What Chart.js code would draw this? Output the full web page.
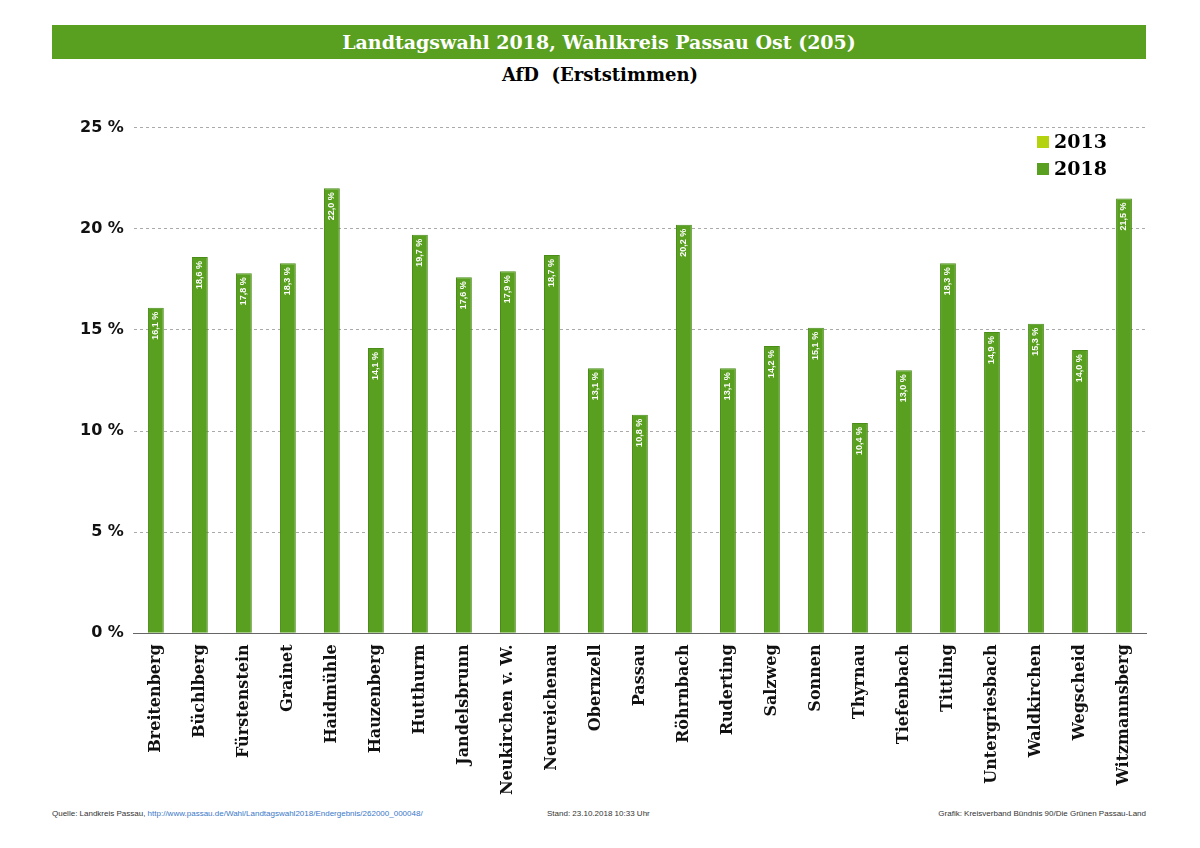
<!DOCTYPE html>
<html>
<head>
<meta charset="utf-8">
<script src="https://cdn.jsdelivr.net/npm/chart.js@4"></script>
<style>
  body { margin: 0; background: #fff; font-family: "DejaVu Serif", serif; }
  #banner { position: absolute; left: 52px; top: 25px; width: 1094px; height: 34px; background: #59a020;
            color: #fff; font-weight: bold; font-size: 19px; text-align: center; line-height: 34px; }
  #sub { position: absolute; left: 0; top: 64px; width: 1200px; text-align: center; font-weight: bold; font-size: 18px; }
  #wrap { position: absolute; left: 0; top: 108px; width: 1200px; height: 690px; }
  #legend { position: absolute; left: 1037px; top: 128px; font-weight: bold; font-size: 19px; line-height: 27px; }
  #legend span.sw { display: inline-block; width: 12px; height: 12px; margin-right: 5px; }
  #foot { position: absolute; top: 809px; left: 52px; width: 1094px; font-family: "Liberation Sans Narrow", "Liberation Sans", sans-serif; font-size: 8px; color: #333; }
  #foot a { color: #3a78c9; text-decoration: none; }
</style>
</head>
<body>
<div id="banner">Landtagswahl 2018, Wahlkreis Passau Ost (205)</div>
<div id="sub">AfD&nbsp; (Erststimmen)</div>
<div id="wrap"><canvas id="c"></canvas></div>
<div id="legend">
  <div><span class="sw" style="background:#b5d20e"></span>2013</div>
  <div><span class="sw" style="background:#59a020"></span>2018</div>
</div>
<div id="foot">
  <span style="position:absolute;left:0">Quelle: Landkreis Passau, <a>http://www.passau.de/Wahl/Landtagswahl2018/Endergebnis/262000_000048/</a></span>
  <span style="position:absolute;left:495px">Stand: 23.10.2018 10:33 Uhr</span>
  <span style="position:absolute;right:0">Grafik: Kreisverband Bündnis 90/Die Grünen Passau-Land</span>
</div>
<script>
const gemeinden = ['Breitenberg', 'Büchlberg', 'Fürstenstein', 'Grainet', 'Haidmühle', 'Hauzenberg', 'Hutthurm',
  'Jandelsbrunn', 'Neukirchen v. W.', 'Neureichenau', 'Obernzell', 'Passau', 'Röhrnbach', 'Ruderting', 'Salzweg',
  'Sonnen', 'Thyrnau', 'Tiefenbach', 'Tittling', 'Untergriesbach', 'Waldkirchen', 'Wegscheid', 'Witzmannsberg'];
const werte2013 = gemeinden.map(() => null); // no AfD candidate in 2013
const werte2018 = [16.1, 18.6, 17.8, 18.3, 22.0, 14.1, 19.7, 17.6, 17.9, 18.7, 13.1, 10.8, 20.2, 13.1, 14.2,
  15.1, 10.4, 13.0, 18.3, 14.9, 15.3, 14.0, 21.5];

const labelPlugin = {
  id: 'barLabels',
  afterDatasetsDraw(chart) {
    const ctx = chart.ctx;
    const meta = chart.getDatasetMeta(1);
    ctx.save();
    ctx.fillStyle = '#fff';
    ctx.font = 'bold 9px "Liberation Sans Narrow", "Liberation Sans", sans-serif';
    ctx.textAlign = 'right';
    ctx.textBaseline = 'middle';
    meta.data.forEach((bar, i) => {
      ctx.save();
      ctx.translate(bar.x, bar.y + 4);
      ctx.rotate(-Math.PI / 2);
      ctx.fillText(werte2018[i].toFixed(1).replace('.', ',') + ' %', 0, 0);
      ctx.restore();
    });
    ctx.restore();
  }
};

new Chart(document.getElementById('c'), {
  type: 'bar',
  data: {
    labels: gemeinden,
    datasets: [
      { label: '2013', data: werte2013, backgroundColor: '#b5d20e' },
      { label: '2018', data: werte2018, backgroundColor: '#59a020', borderColor: '#4a8c18', borderWidth: 1 }
    ]
  },
  options: {
    responsive: true,
    maintainAspectRatio: false,
    animation: false,
    layout: { padding: { left: 70, right: 54, top: 12, bottom: 0 } },
    datasets: { bar: { grouped: false, barPercentage: 0.36, categoryPercentage: 1 } },
    plugins: { legend: { display: false }, tooltip: { enabled: false } },
    scales: {
      y: {
        min: 0, max: 25,
        ticks: { stepSize: 5, color: '#111', padding: 10, font: { family: 'DejaVu Sans', weight: 'bold', size: 16 },
                 callback: v => v + ' %' },
        grid: { color: '#aaa', drawTicks: false, tickLength: 0 },
        border: { display: false, dash: [3, 3] }
      },
      x: {
        ticks: { color: '#111', maxRotation: 90, minRotation: 90, autoSkip: false,
                 font: { family: 'DejaVu Serif', weight: 'bold', size: 16 } },
        grid: { display: false },
        border: { color: '#666', width: 1 }
      }
    }
  },
  plugins: [labelPlugin]
});
</script>
</body>
</html>
